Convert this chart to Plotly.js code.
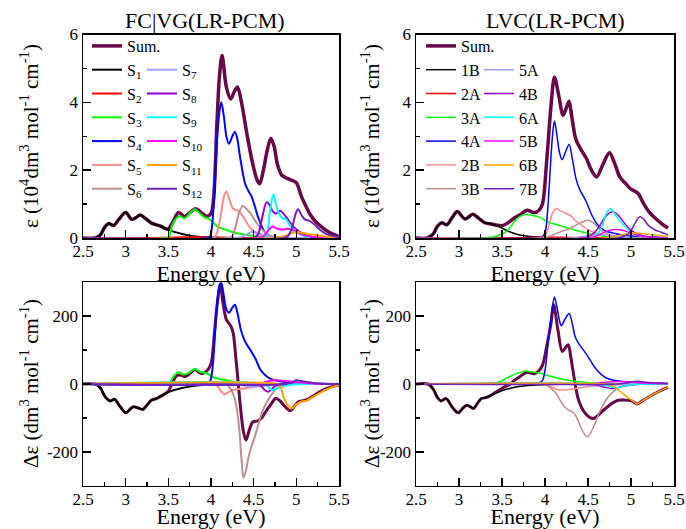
<!DOCTYPE html>
<html>
<head>
<meta charset="utf-8">
<script src="https://cdn.plot.ly/plotly-3.0.1.min.js"></script>
<style>html,body{margin:0;padding:0;background:#fff}#chart{width:686px;height:529px}</style>
</head>
<body>
<div id="chart"></div>
<script>
// ---------- FC|VG(LR-PCM) absorption (10^4 dm3 mol-1 cm-1), [energy eV, value] ----------
const fc_sum = [[2.5,0],[2.64,0],[2.7,0.08],[2.75,0.3],[2.8,0.43],[2.86,0.37],[2.92,0.55],[3.0,0.75],[3.07,0.55],[3.12,0.6],[3.17,0.68],[3.24,0.56],[3.31,0.43],[3.4,0.36],[3.49,0.26],[3.55,0.45],[3.62,0.75],[3.69,0.63],[3.75,0.74],[3.82,0.86],[3.89,0.74],[3.95,0.64],[4.0,0.72],[4.03,1.15],[4.07,3.4],[4.1,4.8],[4.13,5.38],[4.18,4.45],[4.23,4.1],[4.27,4.3],[4.31,4.45],[4.36,3.96],[4.42,3.08],[4.48,2.29],[4.54,1.71],[4.57,1.6],[4.61,1.95],[4.66,2.6],[4.7,2.93],[4.74,2.7],[4.78,2.15],[4.83,1.85],[4.9,1.75],[4.95,1.7],[5.0,1.63],[5.06,1.22],[5.11,0.95],[5.16,0.7],[5.22,0.5],[5.28,0.36],[5.35,0.22],[5.42,0.12],[5.5,0.04]];
const fc_S1 = [[2.5,0],[2.64,0],[2.7,0.08],[2.75,0.3],[2.8,0.43],[2.86,0.37],[2.92,0.55],[3.0,0.75],[3.07,0.55],[3.12,0.6],[3.17,0.68],[3.24,0.56],[3.31,0.43],[3.4,0.36],[3.49,0.26],[3.57,0.18],[3.66,0.12],[3.75,0.07],[3.85,0.04],[3.95,0.02],[4.1,0.005],[4.3,0],[5.5,0]];
const fc_S2 = [[2.5,0],[3.3,0],[3.5,0.01],[3.7,0.02],[3.9,0.02],[4.1,0.01],[4.3,0],[5.5,0]];
const fc_S3 = [[2.5,0],[3.48,0],[3.51,0.05],[3.55,0.4],[3.6,0.6],[3.64,0.64],[3.69,0.58],[3.75,0.72],[3.81,0.85],[3.87,0.72],[3.93,0.6],[3.98,0.56],[4.03,0.45],[4.08,0.33],[4.15,0.26],[4.22,0.2],[4.32,0.13],[4.45,0.08],[4.6,0.03],[4.8,0.01],[5.0,0],[5.5,0]];
const fc_S4 = [[2.5,0],[3.96,0],[3.99,0.05],[4.03,0.9],[4.07,2.88],[4.1,3.75],[4.12,4.0],[4.15,3.6],[4.18,3.0],[4.21,2.78],[4.25,3.0],[4.28,3.13],[4.31,2.9],[4.34,2.4],[4.4,1.6],[4.44,1.38],[4.48,1.2],[4.55,0.63],[4.61,0.26],[4.67,0.06],[4.75,0.01],[5.0,0],[5.5,0]];
const fc_S5 = [[2.5,0],[4.03,0],[4.07,0.15],[4.11,0.6],[4.15,1.2],[4.18,1.38],[4.22,1.1],[4.26,0.86],[4.3,0.82],[4.34,0.76],[4.39,0.58],[4.46,0.3],[4.55,0.11],[4.65,0.04],[4.8,0],[5.5,0]];
const fc_S6 = [[2.5,0],[4.2,0],[4.25,0.05],[4.29,0.35],[4.33,0.75],[4.37,0.94],[4.42,0.85],[4.47,0.7],[4.52,0.5],[4.57,0.33],[4.62,0.2],[4.67,0.1],[4.75,0.03],[4.9,0],[5.5,0]];
const fc_S7 = [[2.5,0],[4.3,0],[4.4,0.08],[4.48,0.18],[4.55,0.15],[4.62,0.08],[4.72,0.02],[4.85,0],[5.5,0]];
const fc_S8 = [[2.5,0],[4.5,0],[4.55,0.1],[4.6,0.6],[4.65,1.05],[4.68,1.0],[4.72,0.8],[4.76,0.72],[4.81,0.8],[4.85,0.72],[4.9,0.55],[4.96,0.35],[5.03,0.2],[5.1,0.1],[5.2,0.03],[5.35,0],[5.5,0]];
const fc_S9 = [[2.5,0],[4.62,0],[4.66,0.15],[4.69,0.75],[4.73,1.29],[4.76,1.0],[4.8,0.7],[4.84,0.58],[4.88,0.55],[4.93,0.35],[4.98,0.22],[5.05,0.1],[5.15,0.03],[5.3,0],[5.5,0]];
const fc_S10 = [[2.5,0],[4.55,0],[4.62,0.05],[4.67,0.22],[4.72,0.34],[4.77,0.28],[4.83,0.25],[4.9,0.27],[4.97,0.22],[5.05,0.12],[5.15,0.05],[5.3,0],[5.5,0]];
const fc_S11 = [[2.5,0],[4.75,0],[4.85,0.05],[4.93,0.13],[5.0,0.17],[5.08,0.15],[5.18,0.1],[5.3,0.06],[5.4,0.03],[5.5,0.02]];
const fc_S12 = [[2.5,0],[4.85,0],[4.9,0.05],[4.95,0.3],[4.99,0.7],[5.02,0.85],[5.06,0.68],[5.1,0.55],[5.16,0.5],[5.22,0.38],[5.28,0.24],[5.35,0.12],[5.5,0.02]];

// ---------- LVC(LR-PCM) absorption ----------
const lv_sum = [[2.5,0],[2.63,0],[2.7,0.12],[2.75,0.35],[2.8,0.45],[2.86,0.39],[2.92,0.6],[2.98,0.78],[3.07,0.56],[3.16,0.7],[3.23,0.58],[3.3,0.45],[3.4,0.4],[3.5,0.36],[3.57,0.45],[3.64,0.58],[3.72,0.7],[3.79,0.82],[3.87,0.75],[3.93,0.82],[3.97,1.0],[4.02,2.29],[4.07,3.9],[4.11,4.74],[4.16,4.2],[4.21,3.62],[4.25,3.85],[4.28,4.03],[4.31,3.6],[4.36,2.9],[4.42,2.6],[4.48,2.35],[4.54,2.0],[4.6,1.8],[4.67,2.15],[4.75,2.51],[4.81,2.2],[4.87,1.8],[4.94,1.6],[4.99,1.46],[5.08,1.32],[5.15,1.0],[5.22,0.74],[5.32,0.5],[5.43,0.29]];
const lv_1B = [[2.5,0],[2.63,0],[2.7,0.12],[2.75,0.35],[2.8,0.45],[2.86,0.39],[2.92,0.6],[2.98,0.78],[3.07,0.56],[3.16,0.7],[3.23,0.58],[3.3,0.45],[3.36,0.43],[3.44,0.36],[3.51,0.28],[3.58,0.19],[3.66,0.12],[3.75,0.07],[3.86,0.04],[4.0,0.01],[4.2,0],[5.43,0]];
const lv_2A = [[2.5,0],[3.6,0],[3.9,0.02],[4.2,0.02],[4.5,0],[5.43,0]];
const lv_3A = [[2.5,0],[3.3,0],[3.4,0.03],[3.47,0.09],[3.55,0.19],[3.6,0.33],[3.66,0.53],[3.72,0.65],[3.78,0.7],[3.84,0.67],[3.9,0.64],[3.95,0.6],[4.0,0.52],[4.05,0.45],[4.13,0.4],[4.22,0.33],[4.3,0.27],[4.4,0.2],[4.5,0.14],[4.6,0.09],[4.75,0.04],[4.95,0.01],[5.43,0]];
const lv_4A = [[2.5,0],[3.9,0],[3.96,0.02],[4.0,0.15],[4.03,0.8],[4.06,2.0],[4.09,3.1],[4.11,3.45],[4.14,3.0],[4.17,2.5],[4.2,2.31],[4.24,2.55],[4.28,2.76],[4.32,2.3],[4.36,1.75],[4.4,1.45],[4.48,1.07],[4.54,0.7],[4.6,0.43],[4.66,0.28],[4.72,0.19],[4.8,0.14],[4.87,0.1],[5.0,0.06],[5.2,0.03],[5.43,0.01]];
const lv_2B = [[2.5,0],[3.95,0],[4.0,0.05],[4.05,0.4],[4.09,0.75],[4.13,0.87],[4.18,0.8],[4.25,0.72],[4.3,0.65],[4.36,0.5],[4.44,0.35],[4.52,0.22],[4.6,0.14],[4.7,0.08],[4.85,0.03],[5.0,0],[5.43,0]];
const lv_3B = [[2.5,0],[3.95,0],[4.05,0.05],[4.13,0.13],[4.2,0.2],[4.28,0.27],[4.36,0.38],[4.44,0.48],[4.5,0.52],[4.56,0.45],[4.62,0.3],[4.68,0.18],[4.75,0.1],[4.85,0.04],[5.0,0.01],[5.43,0]];
const lv_5A = [[2.5,0],[4.3,0],[4.45,0.05],[4.58,0.1],[4.7,0.08],[4.85,0.03],[5.0,0],[5.43,0]];
const lv_4B = [[2.5,0],[4.45,0],[4.55,0.1],[4.62,0.3],[4.69,0.58],[4.75,0.74],[4.8,0.77],[4.86,0.65],[4.92,0.45],[4.98,0.28],[5.05,0.15],[5.15,0.06],[5.3,0.02],[5.43,0]];
const lv_6A = [[2.5,0],[4.55,0],[4.62,0.15],[4.67,0.4],[4.71,0.7],[4.76,0.87],[4.8,0.75],[4.84,0.6],[4.9,0.42],[4.95,0.28],[5.03,0.12],[5.12,0.04],[5.25,0],[5.43,0]];
const lv_5B = [[2.5,0],[4.5,0],[4.6,0.06],[4.7,0.18],[4.8,0.25],[4.88,0.24],[4.96,0.18],[5.05,0.1],[5.15,0.04],[5.3,0],[5.43,0]];
const lv_6B = [[2.5,0],[4.7,0],[4.8,0.04],[4.9,0.1],[5.0,0.14],[5.1,0.14],[5.2,0.11],[5.3,0.08],[5.43,0.05]];
const lv_7B = [[2.5,0],[4.85,0],[4.92,0.05],[4.98,0.15],[5.04,0.4],[5.08,0.58],[5.11,0.63],[5.15,0.55],[5.2,0.38],[5.27,0.25],[5.35,0.17],[5.43,0.1]];

// ---------- FC|VG(LR-PCM) circular dichroism (dm3 mol-1 cm-1) ----------
const fcd_sum = [[2.5,0],[2.64,0],[2.7,-10],[2.76,-38],[2.82,-50],[2.87,-45],[2.93,-65],[3.0,-85],[3.05,-75],[3.09,-67],[3.14,-70],[3.2,-75],[3.25,-62],[3.3,-48],[3.36,-43],[3.42,-35],[3.5,-21],[3.55,5],[3.6,25],[3.65,26],[3.7,22],[3.76,33],[3.81,43],[3.86,34],[3.9,31],[3.95,38],[4.0,60],[4.04,150],[4.07,229],[4.11,294],[4.14,240],[4.18,190],[4.23,172],[4.26,150],[4.29,80],[4.32,0],[4.35,-80],[4.38,-140],[4.41,-166],[4.45,-135],[4.49,-112],[4.55,-109],[4.6,-98],[4.64,-82],[4.71,-57],[4.76,-42],[4.81,-50],[4.85,-62],[4.93,-79],[4.98,-65],[5.03,-52],[5.12,-47],[5.2,-35],[5.28,-22],[5.38,-11],[5.5,-3]];
const fcd_S1 = [[2.5,0],[2.64,0],[2.7,-10],[2.76,-38],[2.82,-50],[2.87,-45],[2.93,-65],[3.0,-85],[3.05,-75],[3.09,-67],[3.14,-70],[3.2,-75],[3.25,-62],[3.3,-48],[3.36,-43],[3.42,-35],[3.5,-24],[3.58,-17],[3.66,-12],[3.76,-7],[3.86,-4],[3.98,-2],[4.15,-0.5],[4.4,0],[5.5,0]];
const fcd_S2 = [[2.5,0],[3.1,0],[3.3,-1],[3.5,-1],[3.7,0],[5.5,0]];
const fcd_S3 = [[2.5,0],[3.48,0],[3.52,5],[3.57,25],[3.62,35],[3.68,28],[3.74,33],[3.81,45],[3.87,36],[3.93,33],[3.98,28],[4.03,20],[4.1,15],[4.18,11],[4.3,5],[4.45,3],[4.6,1],[4.8,0],[5.5,0]];
const fcd_S4 = [[2.5,0],[3.95,0],[3.98,3],[4.01,30],[4.04,120],[4.07,235],[4.1,290],[4.12,299],[4.15,260],[4.18,220],[4.21,210],[4.25,225],[4.28,234],[4.31,210],[4.35,160],[4.4,125],[4.46,101],[4.52,75],[4.58,42],[4.64,25],[4.7,15],[4.8,8],[4.95,4],[5.1,2],[5.3,0.5],[5.5,0]];
const fcd_S5 = [[2.5,0],[4.02,0],[4.07,-5],[4.12,-22],[4.16,-31],[4.2,-25],[4.25,-18],[4.32,-15],[4.4,-13],[4.5,-8],[4.6,-3],[4.7,0],[5.5,0]];
const fcd_S6 = [[2.5,0],[4.15,0],[4.2,-5],[4.26,-30],[4.3,-70],[4.33,-130],[4.36,-230],[4.38,-276],[4.41,-255],[4.44,-215],[4.48,-180],[4.52,-150],[4.56,-115],[4.6,-82],[4.65,-55],[4.7,-35],[4.75,-18],[4.8,-7],[4.9,-1],[5.0,0],[5.5,0]];
const fcd_S7 = [[2.5,0],[4.3,0],[4.4,-5],[4.5,-8],[4.6,-6],[4.7,-2],[4.8,0],[5.5,0]];
const fcd_S8 = [[2.5,0],[4.5,0],[4.58,-5],[4.63,-18],[4.67,-23],[4.71,-15],[4.76,-5],[4.85,0],[4.95,3],[5.05,2],[5.2,0],[5.5,0]];
const fcd_S9 = [[2.5,0],[4.62,0],[4.67,-8],[4.72,-18],[4.77,-14],[4.83,-8],[4.9,-4],[5.0,-1],[5.1,0],[5.5,0]];
const fcd_S10 = [[2.5,0],[4.55,0],[4.62,4],[4.7,10],[4.78,11],[4.86,9],[4.95,7],[5.05,5],[5.15,2],[5.3,0],[5.5,0]];
const fcd_S11 = [[2.5,0],[4.78,0],[4.81,-5],[4.85,-38],[4.9,-62],[4.95,-72],[5.0,-60],[5.05,-53],[5.12,-49],[5.2,-37],[5.28,-26],[5.38,-13],[5.5,-3]];
const fcd_S12 = [[2.5,0],[4.88,0],[4.94,4],[5.0,11],[5.05,9],[5.12,6],[5.2,3],[5.3,1],[5.5,0]];

// ---------- LVC(LR-PCM) circular dichroism ----------
const lvd_sum = [[2.5,0],[2.64,0],[2.7,-15],[2.75,-40],[2.79,-50],[2.85,-43],[2.92,-68],[2.99,-85],[3.05,-70],[3.09,-63],[3.13,-67],[3.17,-72],[3.22,-55],[3.26,-43],[3.31,-40],[3.36,-35],[3.42,-25],[3.47,-18],[3.53,-8],[3.59,-2],[3.65,12],[3.71,22],[3.78,34],[3.83,33],[3.88,30],[3.93,40],[3.97,55],[4.02,111],[4.07,180],[4.1,234],[4.15,160],[4.2,96],[4.24,108],[4.27,116],[4.3,80],[4.33,32],[4.39,-47],[4.47,-87],[4.56,-102],[4.66,-82],[4.78,-57],[4.85,-48],[4.91,-47],[5.01,-50],[5.07,-59],[5.12,-52],[5.18,-42],[5.3,-25],[5.43,-10]];
const lvd_1B = [[2.5,0],[2.64,0],[2.7,-15],[2.75,-40],[2.79,-50],[2.85,-43],[2.92,-68],[2.99,-85],[3.05,-70],[3.09,-63],[3.13,-67],[3.17,-72],[3.22,-55],[3.26,-43],[3.31,-40],[3.36,-35],[3.42,-28],[3.47,-23],[3.53,-17],[3.59,-13],[3.67,-8],[3.75,-6],[3.83,-4],[3.9,-3],[4.0,-2],[4.1,-1],[4.3,0],[5.43,0]];
const lvd_2A = [[2.5,0],[3.6,0],[3.9,-1],[4.2,-1],[4.5,0],[5.43,0]];
const lvd_3A = [[2.5,0],[3.2,0],[3.3,1],[3.4,3],[3.47,7],[3.53,14],[3.59,22],[3.66,30],[3.72,35],[3.77,38],[3.83,36],[3.9,34],[3.96,31],[4.02,26],[4.08,22],[4.15,17],[4.25,12],[4.35,8],[4.45,5],[4.6,2],[4.8,0.5],[5.0,0],[5.43,0]];
const lvd_4A = [[2.5,0],[3.85,0],[3.92,2],[3.97,10],[4.0,40],[4.04,130],[4.08,215],[4.11,257],[4.14,225],[4.17,185],[4.19,172],[4.23,190],[4.28,208],[4.32,175],[4.35,140],[4.39,120],[4.43,106],[4.5,81],[4.55,60],[4.6,42],[4.66,27],[4.72,17],[4.8,11],[4.88,8],[5.0,6],[5.15,4],[5.3,2],[5.43,1]];
const lvd_2B = [[2.5,0],[3.95,0],[4.02,-3],[4.08,-10],[4.14,-16],[4.2,-18],[4.28,-16],[4.37,-13],[4.47,-9],[4.56,-6],[4.65,-3],[4.75,-1],[4.9,0],[5.43,0]];
const lvd_3B = [[2.5,0],[3.95,0],[4.02,-5],[4.08,-15],[4.13,-28],[4.18,-50],[4.23,-68],[4.28,-78],[4.33,-84],[4.37,-100],[4.42,-130],[4.47,-152],[4.5,-155],[4.54,-140],[4.58,-117],[4.63,-85],[4.68,-60],[4.73,-40],[4.78,-26],[4.86,-10],[4.95,-3],[5.05,0],[5.43,0]];
const lvd_5A = [[2.5,0],[4.3,0],[4.45,-3],[4.6,-5],[4.75,-4],[4.9,-1],[5.0,0],[5.43,0]];
const lvd_4B = [[2.5,0],[4.5,0],[4.62,-4],[4.7,-10],[4.78,-13],[4.86,-10],[4.95,-5],[5.05,-2],[5.15,0],[5.43,0]];
const lvd_6A = [[2.5,0],[4.6,0],[4.7,-4],[4.78,-9],[4.84,-11],[4.9,-8],[4.98,-4],[5.08,-1],[5.2,0],[5.43,0]];
const lvd_5B = [[2.5,0],[4.5,0],[4.6,2],[4.7,5],[4.8,7],[4.9,7],[5.0,6],[5.1,4],[5.25,2],[5.43,1]];
const lvd_6B = [[2.5,0],[4.7,0],[4.76,-3],[4.82,-10],[4.88,-23],[4.93,-33],[4.98,-43],[5.03,-52],[5.07,-59],[5.12,-52],[5.18,-42],[5.3,-25],[5.43,-10]];
const lvd_7B = [[2.5,0],[4.85,0],[4.95,3],[5.02,7],[5.08,8],[5.15,6],[5.25,4],[5.35,3],[5.43,2]];

// ---------- labels ----------
const fcNames = ['Sum.','S<sub>1</sub>','S<sub>2</sub>','S<sub>3</sub>','S<sub>4</sub>','S<sub>5</sub>','S<sub>6</sub>','S<sub>7</sub>','S<sub>8</sub>','S<sub>9</sub>','S<sub>10</sub>','S<sub>11</sub>','S<sub>12</sub>'];
const lvNames = ['Sum.','1B','2A','3A','4A','2B','3B','5A','4B','6A','5B','6B','7B'];
const colors = ['#670748','#000000','#ff0000','#00ff00','#0000ff','#fa8c8c','#bc8f8f','#9f9fff','#9400d3','#00ffff','#ff00ff','#ffa500','#7221bc'];
const xTicks = [2.5,3,3.5,4,4.5,5,5.5];
const yTopTicks = [0,2,4,6];
const yBotTicks = [-200,0,200];
const yBotText = ['-200','0','200'];
const epsTitle = 'ε (10<sup>4</sup>dm<sup>3</sup> mol<sup>-1</sup> cm<sup>-1</sup>)';
const dEpsTitle = 'Δε (dm<sup>3</sup> mol<sup>-1</sup> cm<sup>-1</sup>)';

const fcTop = [fc_sum,fc_S1,fc_S2,fc_S3,fc_S4,fc_S5,fc_S6,fc_S7,fc_S8,fc_S9,fc_S10,fc_S11,fc_S12];
const lvTop = [lv_sum,lv_1B,lv_2A,lv_3A,lv_4A,lv_2B,lv_3B,lv_5A,lv_4B,lv_6A,lv_5B,lv_6B,lv_7B];
const fcBot = [fcd_sum,fcd_S1,fcd_S2,fcd_S3,fcd_S4,fcd_S5,fcd_S6,fcd_S7,fcd_S8,fcd_S9,fcd_S10,fcd_S11,fcd_S12];
const lvBot = [lvd_sum,lvd_1B,lvd_2A,lvd_3A,lvd_4A,lvd_2B,lvd_3B,lvd_5A,lvd_4B,lvd_6A,lvd_5B,lvd_6B,lvd_7B];

const SERIF = 'Liberation Serif';
const W = 686, H = 529;

function panelTraces(sets, names, xa, ya, legA, legB, sumW, compW, showLeg) {
  return sets.map((pts, i) => ({
    type: 'scatter', mode: 'lines',
    x: pts.map(p => p[0]), y: pts.map(p => p[1]),
    xaxis: xa, yaxis: ya,
    name: names[i],
    line: {color: colors[i], width: i === 0 ? sumW : compW, shape: 'spline', smoothing: 0.9},
    showlegend: showLeg,
    legend: i <= 6 ? legA : legB,
    hoverinfo: 'skip'
  }));
}

const traces = [].concat(
  panelTraces(fcTop, fcNames, 'x', 'y', 'legend', 'legend2', 3.5, 2, true),
  panelTraces(lvTop, lvNames, 'x2', 'y2', 'legend3', 'legend4', 3.5, 1.5, true),
  panelTraces(fcBot, fcNames, 'x3', 'y3', 'legend', 'legend2', 3, 2, false),
  panelTraces(lvBot, lvNames, 'x4', 'y4', 'legend3', 'legend4', 3, 1.5, false)
);

const tickFont = {family: SERIF, size: 17, color: '#000'};
const xTitleFont = {family: SERIF, size: 22, color: '#000'};

function xAxis(x0, x1, anchor) {
  return {
    domain: [x0 / W, x1 / W], anchor: anchor, range: [2.5, 5.5],
    tickmode: 'array', tickvals: xTicks,
    ticks: 'inside', ticklen: 8, tickwidth: 1.5, tickcolor: '#000',
    minor: {tickmode: 'linear', tick0: 2.5, dtick: 0.25, ticks: 'inside', ticklen: 4, tickwidth: 1.5, tickcolor: '#000', showgrid: false},
    showline: true, mirror: true, linewidth: 1.5, linecolor: '#000',
    showgrid: false, zeroline: false, tickfont: tickFont,
    ticklabelstandoff: -3, automargin: true,
    title: {text: 'Energy (eV)', font: xTitleFont, standoff: 4}
  };
}
function yAxis(y0, y1, anchor, top) {
  const a = {
    domain: [1 - y1 / H, 1 - y0 / H], anchor: anchor,
    ticks: 'inside', ticklen: 8, tickwidth: 1.5, tickcolor: '#000',
    showline: true, mirror: true, linewidth: 1.5, linecolor: '#000',
    showgrid: false, zeroline: false, tickfont: tickFont,
    tickmode: 'array'
  };
  if (top) {
    a.range = [0, 6];
    a.tickvals = yTopTicks;
    a.minor = {tickmode: 'linear', tick0: 0, dtick: 1, ticks: 'inside', ticklen: 4, tickwidth: 1.5, tickcolor: '#000', showgrid: false};
  } else {
    a.range = [-300, 300];
    a.tickvals = yBotTicks; a.ticktext = yBotText;
    a.minor = {tickmode: 'linear', tick0: 0, dtick: 100, ticks: 'inside', ticklen: 4, tickwidth: 1.5, tickcolor: '#000', showgrid: false};
  }
  return a;
}

function leg(xpx, ypx) {
  return {x: xpx / W, y: 1 - ypx / H, xanchor: 'left', yanchor: 'top',
    bgcolor: 'rgba(0,0,0,0)', borderwidth: 0, font: {family: SERIF, size: 16, color: '#000'},
    itemwidth: 30, tracegroupgap: 0, itemclick: false, itemdoubleclick: false};
}

function note(text, xpx, ypx, size, angle) {
  return {text: text, x: xpx / W, y: 1 - ypx / H, xref: 'paper', yref: 'paper', showarrow: false,
    xanchor: 'center', yanchor: 'middle', textangle: angle, font: {family: SERIF, size: size, color: '#000'}};
}

const layout = {
  width: W, height: H,
  margin: {l: 0, r: 0, t: 0, b: 0, autoexpand: false},
  paper_bgcolor: '#fff', plot_bgcolor: '#fff',
  font: {family: SERIF, color: '#000'},
  xaxis: xAxis(83, 339, 'y'),
  xaxis2: xAxis(416, 674, 'y2'),
  xaxis3: xAxis(83, 339, 'y3'),
  xaxis4: xAxis(416, 674, 'y4'),
  yaxis: yAxis(34.5, 238, 'x', true),
  yaxis2: yAxis(34.5, 238, 'x2', true),
  yaxis3: yAxis(282.3, 485.7, 'x3', false),
  yaxis4: yAxis(282.3, 485.7, 'x4', false),
  legend: leg(87, 29),
  legend2: leg(142, 52.8),
  legend3: leg(421, 29),
  legend4: leg(479, 52.8),
  annotations: [
    note('FC|VG(LR-PCM)', 205, 20, 22, 0),
    note('LVC(LR-PCM)', 555, 20, 22, 0),
    note(epsTitle, 29, 136, 21, -90),
    note(epsTitle, 370, 136, 21, -90),
    note(dEpsTitle, 29, 384, 21, -90),
    note(dEpsTitle, 370, 384, 21, -90)
  ]
};

Plotly.newPlot('chart', traces, layout, {staticPlot: true, displayModeBar: false});
</script>
</body>
</html>
